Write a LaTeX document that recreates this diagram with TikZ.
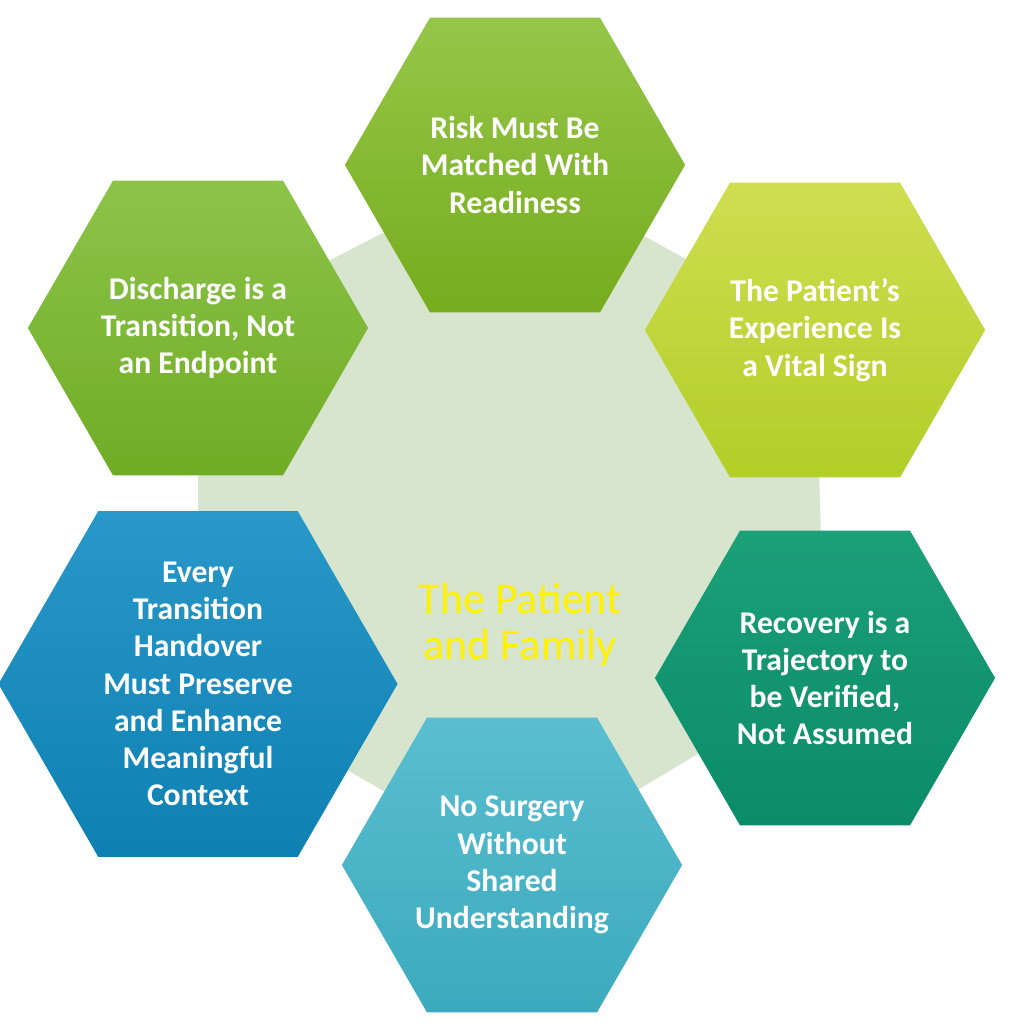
\documentclass[tikz,border=0pt]{standalone}
\usepackage{fontspec}
\setmainfont{Carlito}
\usetikzlibrary{shapes.geometric,backgrounds}

\definecolor{paleleaf}{HTML}{D8E5CE}
\definecolor{sunsky}{HTML}{5E4E4E}
\definecolor{sunglow}{HTML}{F0A048}
\definecolor{hillgrey}{HTML}{4A3E38}
\definecolor{soil}{HTML}{5A4434}
\definecolor{roadgrey}{HTML}{8A7E70}

\tikzset{
  hexa/.style={regular polygon, regular polygon sides=6,
    minimum size=3.4cm, inner sep=0pt, draw=none, text=white,
    font=\bfseries\fontsize{9}{10.6}\selectfont, align=center},
  hexcore/.style={regular polygon, regular polygon sides=6,
    minimum size=4.12cm, inner sep=0pt, draw=none},
  coretext/.style={text=yellow, font=\fontsize{12.5}{13}\selectfont, align=center}
}

\begin{document}
\begin{tikzpicture}[x=0.01cm,y=-0.01cm]
	\useasboundingbox (0,0) rectangle (1024,1024);
	%
	\node[hexa, top color={rgb,255:red,150;green,198;blue,72}, bottom color={rgb,255:red,118;green,172;blue,30}] (risk) at (515,165) {Risk Must Be\\Matched With\\Readiness};
	\node[hexa, top color={rgb,255:red,140;green,196;blue,72}, bottom color={rgb,255:red,112;green,172;blue,38}] (discharge) at (198,328) {Discharge is a\\Transition, Not\\an Endpoint};
	\node[hexa, top color={rgb,255:red,206;green,222;blue,80}, bottom color={rgb,255:red,178;green,206;blue,40}] (experience) at (815,330) {The Patient's\\Experience Is\\a Vital Sign};
	\node[hexa, top color={rgb,255:red,40;green,152;blue,200}, bottom color={rgb,255:red,14;green,128;blue,178}] (handover) at (198,684) {Every\\Transition\\Handover\\Must Preserve\\and Enhance\\Meaningful\\Context};
	\node[hexa, top color={rgb,255:red,28;green,160;blue,120}, bottom color={rgb,255:red,10;green,140;blue,104}] (recovery) at (825,678) {Recovery is a\\Trajectory to\\be Verified,\\Not Assumed};
	\node[hexa, top color={rgb,255:red,90;green,190;blue,208}, bottom color={rgb,255:red,60;green,170;blue,190}] (surgery) at (512,865) {No Surgery\\Without\\Shared\\Understanding};
	%
	\node[hexcore, path picture={
	  \begin{scope}[shift={(-506,-506)}]
		\fill[top color=sunsky, bottom color=sunglow] (290,315) rectangle (722,445);
		\fill[hillgrey] (290,470) -- (330,440) -- (400,432) -- (470,450) -- (560,428) -- (640,440) -- (722,445) -- (722,480) -- (290,480) -- cycle;
		\fill[top color=hillgrey, bottom color=soil] (290,475) rectangle (722,700);
		\fill[roadgrey] (470,470) -- (520,470) -- (650,700) -- (340,700) -- cycle;
		\draw[yellow!70!orange, line width=1.2pt] (495,470) -- (482,700);
		\fill[white, opacity=0.25] (497,418) ellipse (48 and 55);
		\draw[white!80!gray, line width=0.8pt] (497,418) ellipse (48 and 55);
		\fill[yellow!40!white] (495,428) circle (10);
		\fill[black!80] (475,470) rectangle (517,520);
		\fill[black!85] (485,520) -- (507,520) -- (496,532) -- cycle;
	  \end{scope}
	}] (core) at (506,506) {};
	\node[coretext] (coretitle) at (520,625) {The Patient\\and Family};
	%
	\begin{pgfonlayer}{background}
		\fill[paleleaf] (risk.center) -- (experience.center) -- (recovery.center)
			-- (surgery.center) -- (handover.center) -- (discharge.center) -- cycle;
	\end{pgfonlayer}
\end{tikzpicture}
\end{document}
